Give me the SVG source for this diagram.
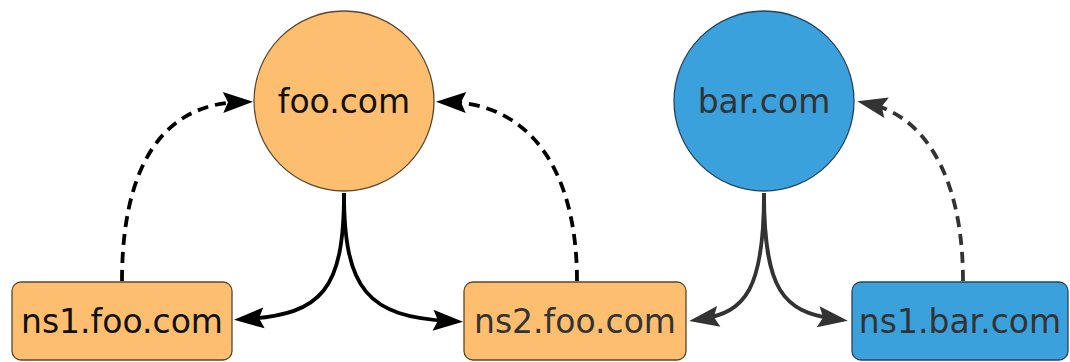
<svg xmlns="http://www.w3.org/2000/svg" width="1070" height="362" viewBox="0 0 1070 362">
<style>
.lbl{font-family:"DejaVu Sans","Liberation Sans",sans-serif;font-size:33px;text-anchor:middle}
.foo{fill:#FDBF6F;stroke:#5a4630;stroke-width:1.3}
.bar{fill:#3BA1DD;stroke:#24445e;stroke-width:1.3}
.e{fill:none;stroke-width:3.8}
.dash{stroke-dasharray:11 7}
.k{stroke:#000}
.g{stroke:#333}
</style>
<defs>
<marker id="ak" markerUnits="userSpaceOnUse" orient="auto" markerWidth="40" markerHeight="30" refX="0" refY="0" viewBox="-20 -15 40 30" overflow="visible">
<path d="M13,0 L-17,-10.5 L-12,0 L-17,10.5 Z" fill="#000"/>
</marker>
<marker id="ag" markerUnits="userSpaceOnUse" orient="auto" markerWidth="40" markerHeight="30" refX="0" refY="0" viewBox="-20 -15 40 30" overflow="visible">
<path d="M13,0 L-17,-10.5 L-12,0 L-17,10.5 Z" fill="#333"/>
</marker>
</defs>
<g id="connectors">
<path class="e k" d="M344,193 C344,290 322,314 247,319" marker-end="url(#ak)"/>
<path class="e k" d="M344,193 C344,290 368,317 450,321" marker-end="url(#ak)"/>
<path class="e g" d="M764,193 C764,290 745,312 702,319" marker-end="url(#ag)"/>
<path class="e g" d="M764,193 C764,290 783,312 835,319" marker-end="url(#ag)"/>
<path class="e k dash" d="M122,281 C122,170 160,104 240,102" marker-end="url(#ak)"/>
<path class="e k dash" d="M577,281 C577,170 530,104 449,102" marker-end="url(#ak)"/>
<path class="e g dash" d="M963,281 C963,170 920,115 870,104" marker-end="url(#ag)"/>
</g>
<g id="foo.com">
<circle class="foo" cx="344" cy="101" r="90"/>
<text class="lbl" x="344" y="113" fill="#111">foo.com</text>
</g>
<g id="bar.com">
<circle class="bar" cx="764" cy="101" r="90"/>
<text class="lbl" x="764" y="113" fill="#333">bar.com</text>
</g>
<g id="ns1.foo.com">
<rect class="foo" x="12" y="282" width="220" height="78" rx="9"/>
<text class="lbl" x="122" y="333" fill="#111">ns1.foo.com</text>
</g>
<g id="ns2.foo.com">
<rect class="foo" x="464" y="282" width="222" height="78" rx="9"/>
<text class="lbl" x="575" y="333" fill="#333">ns2.foo.com</text>
</g>
<g id="ns1.bar.com">
<rect class="bar" x="852" y="282" width="216" height="78" rx="9"/>
<text class="lbl" x="960" y="333" fill="#333">ns1.bar.com</text>
</g>
</svg>
